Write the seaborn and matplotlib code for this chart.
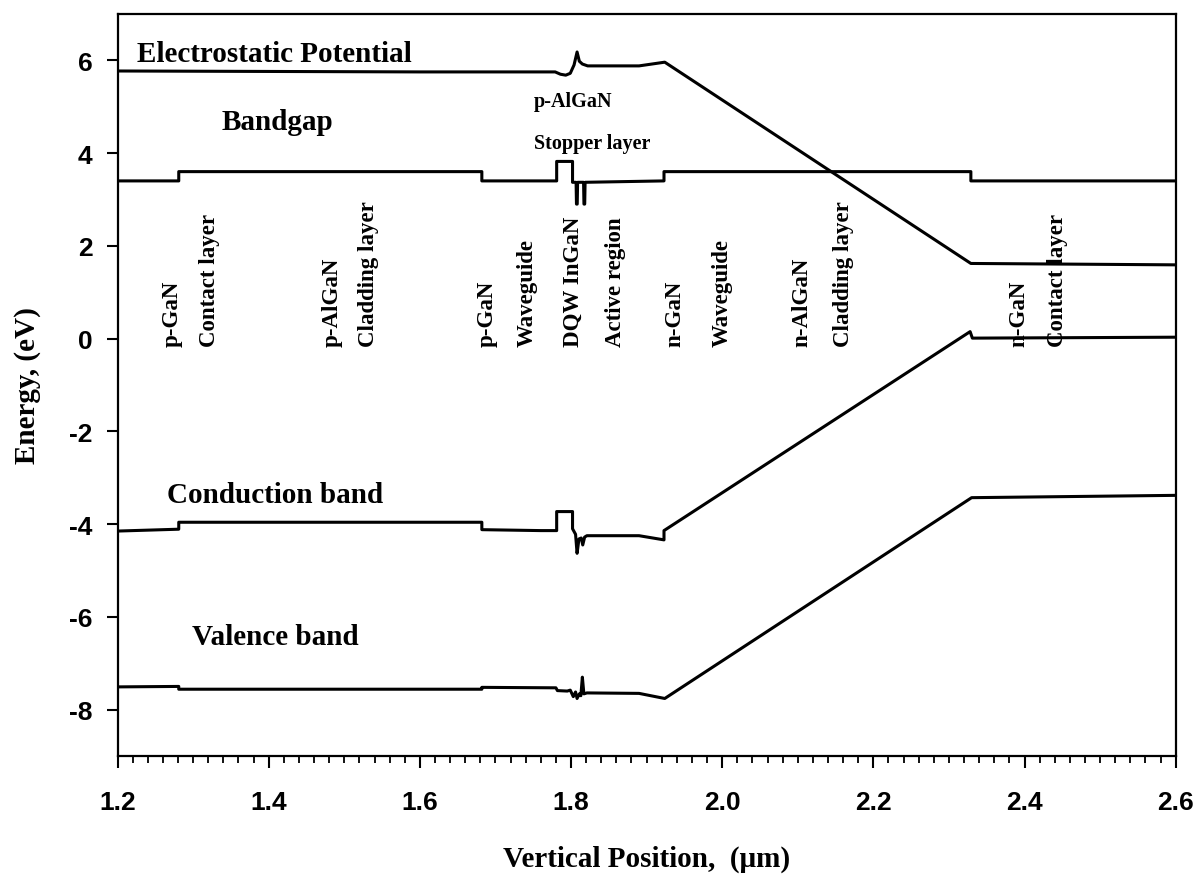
import numpy as np
import pandas as pd
import matplotlib
matplotlib.use("Agg")
import matplotlib.pyplot as plt
from matplotlib.ticker import MultipleLocator, FormatStrFormatter
import seaborn as sns

# ---- band-diagram data: vertical position (um) and energy (eV) ----
pot_x = [1.200, 1.600, 1.779, 1.786, 1.793, 1.799, 1.804, 1.808, 1.811,
         1.815, 1.822, 1.890, 1.924, 2.329, 2.600]
pot_e = [5.77, 5.75, 5.75, 5.70, 5.68, 5.72, 5.90, 6.18, 5.98,
         5.92, 5.88, 5.88, 5.96, 1.62, 1.59]

gap_x = [1.200, 1.281, 1.281, 1.682, 1.682, 1.781, 1.781, 1.802, 1.802,
         1.8067, 1.8072, 1.8082, 1.8087, 1.8166, 1.8171, 1.8181, 1.8186,
         1.923, 1.923, 2.329, 2.329, 2.600]
gap_e = [3.40, 3.40, 3.60, 3.60, 3.40, 3.40, 3.82, 3.82, 3.37,
         3.37, 2.90, 2.90, 3.37, 3.37, 2.90, 2.90, 3.37,
         3.40, 3.60, 3.60, 3.40, 3.40]

cb_x = [1.200, 1.281, 1.281, 1.682, 1.682, 1.760, 1.781, 1.781, 1.802,
        1.802, 1.806, 1.808, 1.8105, 1.8135, 1.8155, 1.818, 1.821, 1.890,
        1.923, 1.923, 2.328, 2.331, 2.600]
cb_e = [-4.15, -4.11, -3.96, -3.96, -4.12, -4.14, -4.14, -3.73, -3.73,
        -4.10, -4.22, -4.63, -4.32, -4.30, -4.45, -4.28, -4.25, -4.25,
        -4.34, -4.14, 0.15, 0.01, 0.03]

vb_x = [1.200, 1.281, 1.281, 1.682, 1.682, 1.780, 1.782, 1.795, 1.799,
        1.803, 1.806, 1.808, 1.811, 1.813, 1.815, 1.817, 1.821, 1.890,
        1.924, 2.330, 2.600]
vb_e = [-7.51, -7.50, -7.56, -7.56, -7.52, -7.53, -7.59, -7.60, -7.58,
        -7.72, -7.62, -7.76, -7.66, -7.70, -7.30, -7.66, -7.64, -7.65,
        -7.76, -3.43, -3.38]

curve_names = ["Electrostatic Potential", "Bandgap", "Conduction band",
               "Valence band"]
layer_names = ["p-GaN", "Contact layer", "p-AlGaN", "Cladding layer",
               "p-GaN", "Waveguide", "DQW InGaN", "Active region",
               "n-GaN", "Waveguide", "n-AlGaN", "Cladding layer",
               "n-GaN", "Contact layer"]
x_ticks = [1.2, 1.4, 1.6, 1.8, 2.0, 2.2, 2.4, 2.6]
y_ticks = [-8, -6, -4, -2, 0, 2, 4, 6]

sns.set_theme(style="ticks")
plt.rcParams["font.family"] = ["Liberation Serif", "DejaVu Serif"]
plt.rcParams["axes.unicode_minus"] = False
plt.rcParams["text.color"] = "black"
plt.rcParams["axes.labelcolor"] = "black"
plt.rcParams["xtick.color"] = "black"
plt.rcParams["ytick.color"] = "black"

fig = plt.figure(figsize=(12.03, 8.79), dpi=100)
ax = fig.add_axes([0.0977, 0.1388, 0.8796, 0.8442])

for xs, es in [(pot_x, pot_e), (gap_x, gap_e), (cb_x, cb_e), (vb_x, vb_e)]:
    df = pd.DataFrame({"x": xs, "E": es})
    sns.lineplot(data=df, x="x", y="E", sort=False, estimator=None,
                 color="black", linewidth=2.2, ax=ax)

ax.set_xlim(1.2, 2.6)
ax.set_ylim(-9, 7)
ax.set_xticks(x_ticks)
ax.set_yticks(y_ticks)
ax.xaxis.set_minor_locator(MultipleLocator(0.02))
ax.xaxis.set_major_formatter(FormatStrFormatter("%.1f"))
ax.yaxis.set_major_formatter(FormatStrFormatter("%d"))

for sp in ax.spines.values():
    sp.set_visible(True)
    sp.set_linewidth(1.6)
    sp.set_color("black")

ax.tick_params(axis="x", which="major", direction="out", length=8.4,
               width=1.5, pad=16, colors="black")
ax.tick_params(axis="x", which="minor", direction="out", length=4.8,
               width=1.3, colors="black")
ax.tick_params(axis="y", which="major", direction="out", length=8.0,
               width=1.5, pad=10, colors="black")
for lab in ax.get_xticklabels() + ax.get_yticklabels():
    lab.set_fontfamily(["Liberation Sans", "DejaVu Sans"])
    lab.set_fontweight("bold")
    lab.set_fontsize(19)
    lab.set_color("black")

ax.set_xlabel("Vertical Position,  (\u03bcm)", fontsize=21,
              fontweight="bold", color="black")
ax.set_ylabel("Energy, (eV)", fontsize=21, fontweight="bold",
              color="black")
ax.xaxis.set_label_coords(0.5, -0.119)
ax.yaxis.set_label_coords(-0.072, 0.5)

# curve names
curve_pos = [(1.226, 5.99), (1.337, 4.52), (1.266, -3.53), (1.299, -6.59)]
for name, (tx, ty) in zip(curve_names, curve_pos):
    ax.text(tx, ty, name, fontsize=21, fontweight="bold", color="black",
            ha="left", va="baseline")

ax.text(1.751, 5.015, "p-AlGaN", fontsize=14.5, fontweight="bold",
        color="black", ha="left", va="baseline")
ax.text(1.751, 4.10, "Stopper layer", fontsize=14.5, fontweight="bold",
        color="black", ha="left", va="baseline")

# layer names, written vertically above the zero line
layer_x = [1.2723, 1.3215, 1.4836, 1.5322, 1.6891, 1.7425, 1.8026, 1.8592,
           1.9372, 1.9995, 2.1054, 2.1605, 2.392, 2.443]
for name, lx in zip(layer_names, layer_x):
    ax.text(lx, -0.155, name, fontsize=16.5, fontweight="bold",
            color="black", rotation=90, ha="center", va="bottom")

fig.savefig("out.png", dpi=100, facecolor="white")
